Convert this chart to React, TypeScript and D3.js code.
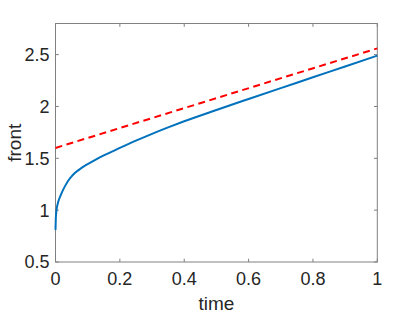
import React, { useEffect, useRef } from 'react'
import * as d3 from 'd3';

const WIDTH = 417;
const HEIGHT = 313;
const MARGIN = { top: 23.5, right: 39.7, bottom: 51, left: 55.5 };

// front position
const times = [0, 0.001, 0.002, 0.004, 0.007, 0.01, 0.015, 0.02, 0.03, 0.04, 0.05, 0.06, 0.08, 0.1, 0.125, 0.15, 0.2, 0.25, 0.3, 0.35, 0.4, 0.5, 0.6, 0.7, 0.8, 0.9, 1.0];
const front = [0.81, 0.921, 0.967, 1.019, 1.062, 1.095, 1.136, 1.172, 1.234, 1.286, 1.326, 1.358, 1.405, 1.444, 1.488, 1.528, 1.6, 1.67, 1.736, 1.798, 1.857, 1.966, 2.072, 2.177, 2.281, 2.386, 2.49];

// dashed red reference line
const refTimes = [0, 1];
const refFront = [1.6, 2.56];

const xTicks = [0, 0.2, 0.4, 0.6, 0.8, 1];
const yTicks = [0.5, 1, 1.5, 2, 2.5];

const App = () => {
    const svgRef = useRef<SVGSVGElement>(null);

    useEffect(() => {
      const svg = d3.select(svgRef.current);
      svg.selectAll("*").remove();

      const x = d3.scaleLinear().domain([0, 1]).range([MARGIN.left, WIDTH - MARGIN.right]);
      const y = d3.scaleLinear().domain([0.5, 2.8]).range([HEIGHT - MARGIN.bottom, MARGIN.top]);

      const font = "'Liberation Sans', Arial, sans-serif";
      const axisColor = "#808080";
      const textColor = "#262626";
      const tickLen = 3.3;

      // box
      const [x0, x1] = x.range();
      const [y0, y1] = y.range();
      svg.append("rect")
          .attr("x", x0).attr("y", y1)
          .attr("width", x1 - x0).attr("height", y0 - y1)
          .attr("fill", "none")
          .attr("stroke", axisColor)
          .attr("stroke-width", 1);

      // ticks on all sides, pointing in
      const g = svg.append("g").attr("stroke", axisColor).attr("stroke-width", 1);
      xTicks.forEach(t => {
        g.append("line").attr("x1", x(t)).attr("x2", x(t)).attr("y1", y0).attr("y2", y0 - tickLen);
        g.append("line").attr("x1", x(t)).attr("x2", x(t)).attr("y1", y1).attr("y2", y1 + tickLen);
      });
      yTicks.forEach(t => {
        g.append("line").attr("y1", y(t)).attr("y2", y(t)).attr("x1", x0).attr("x2", x0 + tickLen);
        g.append("line").attr("y1", y(t)).attr("y2", y(t)).attr("x1", x1).attr("x2", x1 - tickLen);
      });

      // tick labels
      svg.append("g")
        .selectAll("text")
        .data(xTicks)
        .join("text")
          .attr("x", d => x(d))
          .attr("y", y0 + 22.8)
          .attr("text-anchor", "middle")
          .attr("font-family", font)
          .attr("font-size", 18)
          .attr("fill", textColor)
          .text(d => d3.format("~g")(d));

      svg.append("g")
        .selectAll("text")
        .data(yTicks)
        .join("text")
          .attr("x", x0 - 6)
          .attr("y", d => y(d) + 6.4)
          .attr("text-anchor", "end")
          .attr("font-family", font)
          .attr("font-size", 18)
          .attr("fill", textColor)
          .text(d => d3.format("~g")(d));

      // axis labels
      svg.append("text")
          .attr("x", (x0 + x1) / 2)
          .attr("y", 309.5)
          .attr("text-anchor", "middle")
          .attr("font-family", font)
          .attr("font-size", 19)
          .attr("fill", textColor)
          .text("time");

      svg.append("text")
          .attr("transform", `translate(20.5,${(y0 + y1) / 2}) rotate(-90)`)
          .attr("text-anchor", "middle")
          .attr("font-family", font)
          .attr("font-size", 19)
          .attr("fill", textColor)
          .text("front");

      const line = d3.line<[number, number]>()
          .x(d => x(d[0]))
          .y(d => y(d[1]))
          .curve(d3.curveMonotoneX);

      svg.append("path")
          .datum(d3.zip(refTimes, refFront) as [number, number][])
          .attr("d", line)
          .attr("fill", "none")
          .attr("stroke", "#ff0000")
          .attr("stroke-width", 2)
          .attr("stroke-dasharray", "7,4.5");

      svg.append("path")
          .datum(d3.zip(times, front) as [number, number][])
          .attr("d", line)
          .attr("fill", "none")
          .attr("stroke", "#0072bd")
          .attr("stroke-width", 2)
          .attr("stroke-linejoin", "round");
    }, []);

    return (
        <div>
            <svg width={WIDTH} height={HEIGHT} ref={svgRef}
                 style={{ position: 'absolute', left: 0, top: 0, background: '#fff' }} />
        </div>
    );
}

export default App;
